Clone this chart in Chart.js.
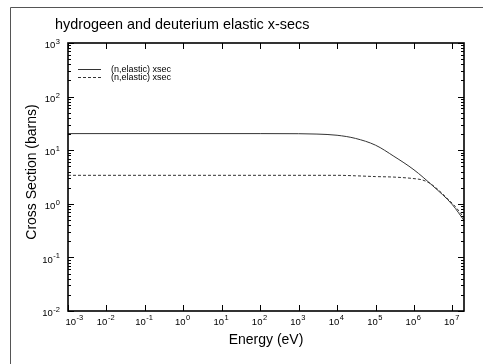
<!DOCTYPE html>
<html>
<head>
<meta charset="utf-8">
<script src="https://cdn.jsdelivr.net/npm/chart.js"></script>
<style>
  html, body { margin: 0; padding: 0; background: #fff; }
  #wrap { width: 483px; height: 364px; }
</style>
</head>
<body>
<div id="wrap"><canvas id="chart" width="483" height="364"></canvas></div>
<script>
// --- datos ---
const chartTitle = "hydrogeen and deuterium elastic x-secs";
const xAxisTitle = "Energy (eV)";
const yAxisTitle = "Cross Section (barns)";
const legendLabels = ["(n,elastic) xsec", "(n,elastic) xsec"];

const energyH = [1e-3, 1e2, 1e3, 3e3, 1e4, 3e4, 1e5, 3e5, 1e6, 3e6, 1e7, 2e7];
const xsecH   = [20.4, 20.4, 20.3, 20.0, 19.0, 16.6, 12.4, 7.7, 4.3, 2.2, 0.96, 0.49];

const energyD = [1e-3, 1e4, 3e4, 1e5, 3e5, 1e6, 1.6e6, 2.5e6, 4e6, 7e6, 1.2e7, 2e7];
const xsecD   = [3.4, 3.4, 3.33, 3.22, 3.15, 2.95, 2.8, 2.45, 1.9, 1.3, 0.88, 0.55];

const xTickExps = [-3, -2, -1, 0, 1, 2, 3, 4, 5, 6, 7];
const yTickExps = [-2, -1, 0, 1, 2, 3];

const FONT = '"Liberation Sans", Arial, Helvetica, sans-serif';

function toPoints(xs, ys) {
    return xs.map((x, i) => ({ x: x, y: ys[i] }));
}

// etiqueta 10^n con exponente elevado
function drawPow(ctx, exp, x, baseY, supY, align) {
    const base = "10";
    const sup = String(exp);
    ctx.font = "9.5px " + FONT;
    const wb = ctx.measureText(base).width;
    ctx.font = "7.5px " + FONT;
    const ws = ctx.measureText(sup).width;
    let x0 = x;
    if (align === "right") x0 = x - wb - ws - 0.5;
    if (align === "center") x0 = x - (wb + ws) / 2;
    ctx.textAlign = "left";
    ctx.textBaseline = "middle";
    ctx.font = "9.5px " + FONT;
    ctx.fillText(base, x0, baseY);
    ctx.font = "7.5px " + FONT;
    ctx.fillText(sup, x0 + wb + 0.5, supY);
}

const framePlugin = {
    id: "frame",
    afterDraw(chart) {
        const { ctx, chartArea: a } = chart;
        const xs = chart.scales.x;
        const ys = chart.scales.y;
        ctx.save();

        // marco exterior
        ctx.strokeStyle = "#555";
        ctx.lineWidth = 1;
        ctx.beginPath();
        ctx.moveTo(10.5, 364);
        ctx.lineTo(10.5, 7.5);
        ctx.lineTo(483, 7.5);
        ctx.stroke();

        // titulo
        ctx.fillStyle = "#000";
        ctx.font = "14.4px " + FONT;
        ctx.textAlign = "left";
        ctx.textBaseline = "middle";
        ctx.fillText(chartTitle, 55, 25);

        // ticks hacia adentro
        ctx.strokeStyle = "#000";
        ctx.lineWidth = 1;
        ctx.beginPath();
        yTickExps.forEach(e => {
            const py = Math.round(ys.getPixelForValue(Math.pow(10, e))) + 0.5;
            ctx.moveTo(a.left, py); ctx.lineTo(a.left + 6, py);
            ctx.moveTo(a.right, py); ctx.lineTo(a.right - 6, py);
            if (e < yTickExps[yTickExps.length - 1]) {
                for (let m = 2; m <= 9; m++) {
                    const pm = Math.round(ys.getPixelForValue(m * Math.pow(10, e))) + 0.5;
                    ctx.moveTo(a.left, pm); ctx.lineTo(a.left + 3, pm);
                    ctx.moveTo(a.right, pm); ctx.lineTo(a.right - 3, pm);
                }
            }
        });
        xTickExps.forEach(e => {
            const px = Math.round(xs.getPixelForValue(Math.pow(10, e))) + 0.5;
            ctx.moveTo(px, a.bottom); ctx.lineTo(px, a.bottom - 6);
            ctx.moveTo(px, a.top); ctx.lineTo(px, a.top + 6);
        });
        ctx.stroke();

        // caja del grafico
        ctx.lineWidth = 1.6;
        ctx.strokeRect(a.left, a.top, a.right - a.left, a.bottom - a.top);

        // etiquetas de ticks
        ctx.fillStyle = "#000";
        yTickExps.forEach(e => {
            const py = ys.getPixelForValue(Math.pow(10, e));
            drawPow(ctx, e, a.left - 8, py + 2.5, py - 1, "right");
        });
        xTickExps.forEach((e, i) => {
            const px = xs.getPixelForValue(Math.pow(10, e)) + (i === 0 ? 6 : -1);
            drawPow(ctx, e, px, a.bottom + 11, a.bottom + 7, "center");
        });

        // titulos de ejes
        ctx.font = "14px " + FONT;
        ctx.textAlign = "center";
        ctx.textBaseline = "middle";
        ctx.fillText(xAxisTitle, (a.left + a.right) / 2, 340);
        ctx.save();
        ctx.translate(32, 172);
        ctx.rotate(-Math.PI / 2);
        ctx.fillText(yAxisTitle, 0, 0);
        ctx.restore();

        // leyenda
        const rows = [69, 77];
        chart.data.datasets.forEach((ds, i) => {
            ctx.strokeStyle = ds.borderColor;
            ctx.lineWidth = 1;
            ctx.setLineDash(ds.borderDash || []);
            ctx.beginPath();
            ctx.moveTo(78, rows[i] + 0.5);
            ctx.lineTo(101, rows[i] + 0.5);
            ctx.stroke();
            ctx.setLineDash([]);
            ctx.fillStyle = "#000";
            ctx.font = "9px " + FONT;
            ctx.textAlign = "left";
            ctx.textBaseline = "middle";
            ctx.fillText(legendLabels[i], 111, rows[i] + 0.5);
        });

        ctx.restore();
    }
};

new Chart(document.getElementById("chart"), {
    type: "line",
    data: {
        datasets: [
            {
                label: legendLabels[0],
                data: toPoints(energyH, xsecH),
                borderColor: "#333",
                borderWidth: 1,
                pointRadius: 0,
                cubicInterpolationMode: "monotone"
            },
            {
                label: legendLabels[1],
                data: toPoints(energyD, xsecD),
                borderColor: "#333",
                borderWidth: 1,
                borderDash: [3, 2],
                pointRadius: 0,
                cubicInterpolationMode: "monotone"
            }
        ]
    },
    options: {
        responsive: false,
        animation: false,
        devicePixelRatio: 1,
        layout: { padding: { left: 68, right: 19, top: 43, bottom: 53 } },
        plugins: {
            legend: { display: false },
            title: { display: false },
            tooltip: { enabled: false }
        },
        scales: {
            x: { type: "logarithmic", min: 1e-3, max: 2e7, display: false },
            y: { type: "logarithmic", min: 1e-2, max: 1e3, display: false }
        }
    },
    plugins: [framePlugin]
});
</script>
</body>
</html>
